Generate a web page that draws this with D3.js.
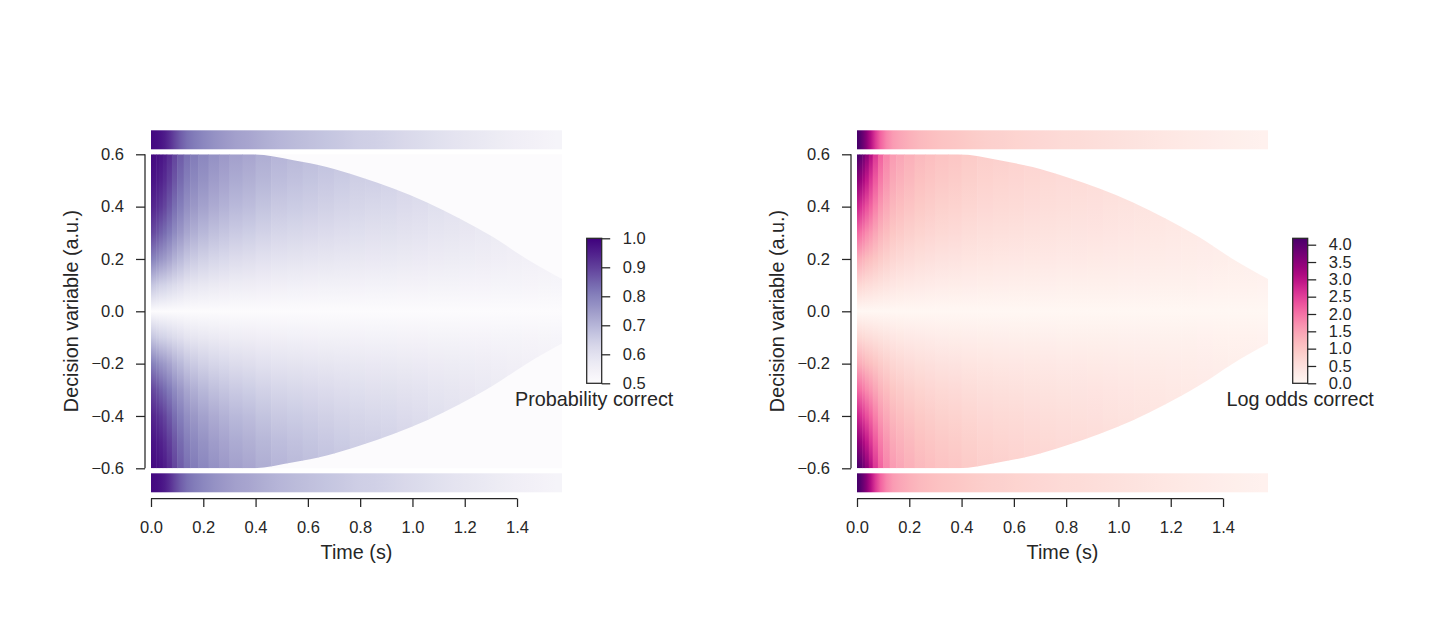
<!DOCTYPE html>
<html>
<head>
<meta charset="utf-8">
<script src="https://cdn.jsdelivr.net/npm/d3@7"></script>
<style>
  body { margin: 0; background: #fff; }
  svg { display: block; font-family: "Liberation Sans", Arial, sans-serif; }
</style>
</head>
<body>
<svg id="chart" width="1436" height="622"></svg>
<script>
// Time bins (s), edges of each heatmap column
const timeEdges = [0, 0.01, 0.02, 0.03, 0.045, 0.06, 0.08, 0.10, 0.125, 0.15,
  0.18, 0.22, 0.26, 0.30, 0.35, 0.40, 0.46, 0.52, 0.58, 0.64, 0.70, 0.76, 0.82,
  0.88, 0.94, 1.00, 1.06, 1.12, 1.18, 1.24, 1.30, 1.36, 1.42, 1.48, 1.53, 1.572];

// Height of the (collapsing) bound in each column
const boundAtColumn = [0.6, 0.6, 0.6, 0.6, 0.6, 0.6, 0.6, 0.6, 0.6, 0.6,
  0.6, 0.6, 0.6, 0.6, 0.6, 0.597, 0.59, 0.577, 0.564, 0.551, 0.534, 0.516,
  0.496, 0.475, 0.451, 0.427, 0.399, 0.37, 0.338, 0.305, 0.27, 0.231, 0.193,
  0.161, 0.135];

// Probability correct when the bound is hit (top / bottom strips)
const pAtBound = [0.985, 0.982, 0.978, 0.970, 0.955, 0.930, 0.895, 0.860, 0.830,
  0.810, 0.790, 0.770, 0.755, 0.740, 0.730, 0.715, 0.700, 0.690, 0.680, 0.670,
  0.660, 0.650, 0.645, 0.635, 0.625, 0.615, 0.605, 0.595, 0.585, 0.575, 0.565,
  0.555, 0.546, 0.538, 0.532];

// Outline of the bound for the clip shape
const boundTimes = [0, 0.385, 0.545, 0.672, 0.80, 0.927, 1.054, 1.182, 1.31, 1.437, 1.572];
const boundHeights = [0.6, 0.6, 0.577, 0.551, 0.513, 0.469, 0.417, 0.354, 0.283, 0.2, 0.123];

// Probability correct inside the bounds, per |decision variable| level
const pAtMidline = 0.5;
const dvLevels = [0.1, 0.2, 0.3, 0.4, 0.5];
const pByLevel = [
  [0.668, 0.661, 0.653, 0.641, 0.637, 0.627, 0.615, 0.606, 0.592, 0.585, 0.578,
   0.571, 0.566, 0.561, 0.559, 0.554, 0.551, 0.549, 0.547, 0.545, 0.544, 0.542,
   0.541, 0.540, 0.539, 0.538, 0.537, 0.535, 0.534, 0.533, 0.532, 0.531, 0.529,
   0.528, 0.526],
  [0.801, 0.792, 0.780, 0.761, 0.750, 0.732, 0.709, 0.692, 0.669, 0.656, 0.643,
   0.631, 0.623, 0.614, 0.609, 0.601, 0.595, 0.591, 0.588, 0.584, 0.581, 0.578,
   0.576, 0.574, 0.572, 0.569, 0.566, 0.564, 0.561, 0.558, 0.555, 0.551, null,
   null, null],
  [0.890, 0.881, 0.870, 0.851, 0.835, 0.811, 0.781, 0.757, 0.729, 0.713, 0.696,
   0.680, 0.669, 0.658, 0.651, 0.640, 0.631, 0.627, 0.622, 0.617, 0.612, 0.607,
   0.604, 0.602, 0.598, 0.594, 0.589, 0.585, 0.580, 0.574, null, null, null,
   null, null],
  [0.942, 0.935, 0.926, 0.911, 0.893, 0.866, 0.833, 0.804, 0.774, 0.756, 0.737,
   0.719, 0.706, 0.693, 0.685, 0.672, 0.661, 0.655, 0.649, 0.643, 0.636, 0.630,
   0.627, 0.623, 0.617, 0.612, null, null, null, null, null, null, null,
   null, null],
  [0.970, 0.966, 0.959, 0.948, 0.930, 0.904, 0.870, 0.838, 0.807, 0.788, 0.768,
   0.748, 0.734, 0.720, 0.711, 0.697, 0.685, 0.677, 0.670, 0.663, 0.655, 0.648,
   null, null, null, null, null, null, null, null, null, null, null,
   null, null]
];

// Tick values
const timeTicks = [0, 0.2, 0.4, 0.6, 0.8, 1.0, 1.2, 1.4];
const dvTicks = [-0.6, -0.4, -0.2, 0, 0.2, 0.4, 0.6];
const probTicks = [0.5, 0.6, 0.7, 0.8, 0.9, 1.0];
const logOddsTicks = [0, 0.5, 1.0, 1.5, 2.0, 2.5, 3.0, 3.5, 4.0];

const ink = "#262626";
const tickFont = 16.5, labelFont = 19.8;
const tMax = timeEdges[timeEdges.length - 1];
const dvMax = 0.6;
const logit = p => Math.log(p / (1 - p));
const colCenters = d3.range(timeEdges.length - 1).map(i => (timeEdges[i] + timeEdges[i + 1]) / 2);

const svg = d3.select("#chart");
const defs = svg.append("defs");

const panels = [
  {
    id: "prob", left: 151,
    color: d3.scaleSequential(d3.interpolatePurples).domain([0.5, 1]),
    value: p => p, fillOutside: true,
    cbTicks: probTicks, cbLabel: "Probability correct"
  },
  {
    id: "logodds", left: 857,
    color: d3.scaleSequential(d3.interpolateRdPu).domain([0, d3.max(pAtBound, logit)]),
    value: logit, fillOutside: false,
    cbTicks: logOddsTicks, cbLabel: "Log odds correct"
  }
];

function styleAxis(sel) {
  sel.attr("font-size", tickFont).attr("font-family", null);
  sel.selectAll("line").attr("stroke", ink).attr("stroke-width", 1.25);
  sel.selectAll("text").attr("fill", ink);
}

function drawPanel(cfg) {
  const x = d3.scaleLinear().domain([0, tMax]).range([cfg.left, cfg.left + 411]);
  const y = d3.scaleLinear().domain([-dvMax, dvMax]).range([468.3, 154.3]);
  const g = svg.append("g");

  // clip shape following the collapsing bound
  const clipId = "clip-" + cfg.id;
  defs.append("clipPath").attr("id", clipId)
    .append("path")
    .attr("d", d3.area()
      .x((d, i) => x(boundTimes[i]))
      .y0(d => y(-d))
      .y1(d => y(d))
      .curve(d3.curveMonotoneX)(boundHeights));

  if (cfg.fillOutside) {
    g.append("rect")
      .attr("x", x(0)).attr("y", y(dvMax))
      .attr("width", x(tMax) - x(0)).attr("height", y(-dvMax) - y(dvMax))
      .attr("fill", cfg.color(cfg.value(pAtMidline)));
  }

  const field = g.append("g").attr("clip-path", `url(#${clipId})`);

  colCenters.forEach((c, i) => {
    const stops = [{ dv: 0, p: pAtMidline }];
    dvLevels.forEach((lv, j) => {
      const p = pByLevel[j][i];
      if (p != null && lv < boundAtColumn[i]) stops.push({ dv: lv, p: p });
    });
    stops.push({ dv: boundAtColumn[i], p: pAtBound[i] });

    [1, -1].forEach(sign => {
      const gid = `${cfg.id}-c${i}-${sign > 0 ? "up" : "dn"}`;
      defs.append("linearGradient")
        .attr("id", gid)
        .attr("gradientUnits", "userSpaceOnUse")
        .attr("x1", 0).attr("x2", 0)
        .attr("y1", y(0)).attr("y2", y(sign * dvMax))
        .selectAll("stop")
        .data(stops)
        .join("stop")
        .attr("offset", d => d.dv / dvMax)
        .attr("stop-color", d => cfg.color(cfg.value(d.p)));

      field.append("rect")
        .attr("x", x(timeEdges[i]))
        .attr("width", x(timeEdges[i + 1]) - x(timeEdges[i]) + 0.5)
        .attr("y", sign > 0 ? y(dvMax) : y(0) - 0.25)
        .attr("height", (y(0) - y(dvMax)) + 0.25)
        .attr("fill", `url(#${gid})`);
    });
  });

  // strips with probability at the bound
  const barId = cfg.id + "-bar";
  defs.append("linearGradient")
    .attr("id", barId)
    .attr("gradientUnits", "userSpaceOnUse")
    .attr("x1", x(0)).attr("x2", x(tMax))
    .attr("y1", 0).attr("y2", 0)
    .selectAll("stop")
    .data(pAtBound)
    .join("stop")
    .attr("offset", (d, i) => colCenters[i] / tMax)
    .attr("stop-color", d => cfg.color(cfg.value(d)));

  [y(dvMax) - 5 - 19, y(-dvMax) + 5].forEach(top => {
    g.append("rect")
      .attr("x", x(0)).attr("y", top)
      .attr("width", x(tMax) - x(0)).attr("height", 19)
      .attr("fill", `url(#${barId})`);
  });

  // axes (trimmed spines)
  const yAxis = g.append("g")
    .attr("transform", `translate(${cfg.left - 6},0)`)
    .call(d3.axisLeft(y).tickValues(dvTicks).tickSize(9).tickPadding(12)
      .tickFormat(d3.format(".1f")));
  yAxis.select(".domain").remove();
  yAxis.append("line")
    .attr("y1", y(-dvMax)).attr("y2", y(dvMax));
  styleAxis(yAxis);

  const xAxis = g.append("g")
    .attr("transform", "translate(0,498.5)")
    .call(d3.axisBottom(x).tickValues(timeTicks).tickSize(8.5).tickPadding(14)
      .tickFormat(d3.format(".1f")));
  xAxis.select(".domain").remove();
  xAxis.append("line")
    .attr("x1", x(0)).attr("x2", x(timeTicks[timeTicks.length - 1]));
  styleAxis(xAxis);

  g.append("text")
    .attr("x", (x(0) + x(tMax)) / 2).attr("y", 559)
    .attr("text-anchor", "middle").attr("font-size", labelFont).attr("fill", ink)
    .text("Time (s)");

  g.append("text")
    .attr("transform", `translate(${cfg.left - 73},311) rotate(-90)`)
    .attr("text-anchor", "middle").attr("font-size", labelFont).attr("fill", ink)
    .text("Decision variable (a.u.)");

  // colour bar
  const cbLeft = cfg.left + 435.7, cbW = 15, cbTop = 238.3, cbBottom = 383.3;
  const dom = cfg.color.domain();
  const cb = d3.scaleLinear().domain(dom).range([cbBottom, cbTop]);
  const cbId = cfg.id + "-cb";
  defs.append("linearGradient")
    .attr("id", cbId)
    .attr("gradientUnits", "userSpaceOnUse")
    .attr("x1", 0).attr("x2", 0)
    .attr("y1", cbBottom).attr("y2", cbTop)
    .selectAll("stop")
    .data(d3.range(0, 1.0001, 0.05))
    .join("stop")
    .attr("offset", f => f)
    .attr("stop-color", f => cfg.color(dom[0] + f * (dom[1] - dom[0])));

  g.append("rect")
    .attr("x", cbLeft).attr("y", cbTop)
    .attr("width", cbW).attr("height", cbBottom - cbTop)
    .attr("fill", `url(#${cbId})`)
    .attr("stroke", ink).attr("stroke-width", 1.25);

  const cbAxis = g.append("g")
    .attr("transform", `translate(${cbLeft + cbW},0)`)
    .call(d3.axisRight(cb).tickValues(cfg.cbTicks).tickSize(8.5).tickPadding(12.5)
      .tickFormat(d3.format(".1f")));
  cbAxis.select(".domain").remove();
  styleAxis(cbAxis);

  g.append("text")
    .attr("x", cbLeft + cbW / 2).attr("y", 406)
    .attr("text-anchor", "middle").attr("font-size", labelFont).attr("fill", ink)
    .text(cfg.cbLabel);
}

panels.forEach(drawPanel);
</script>
</body>
</html>
